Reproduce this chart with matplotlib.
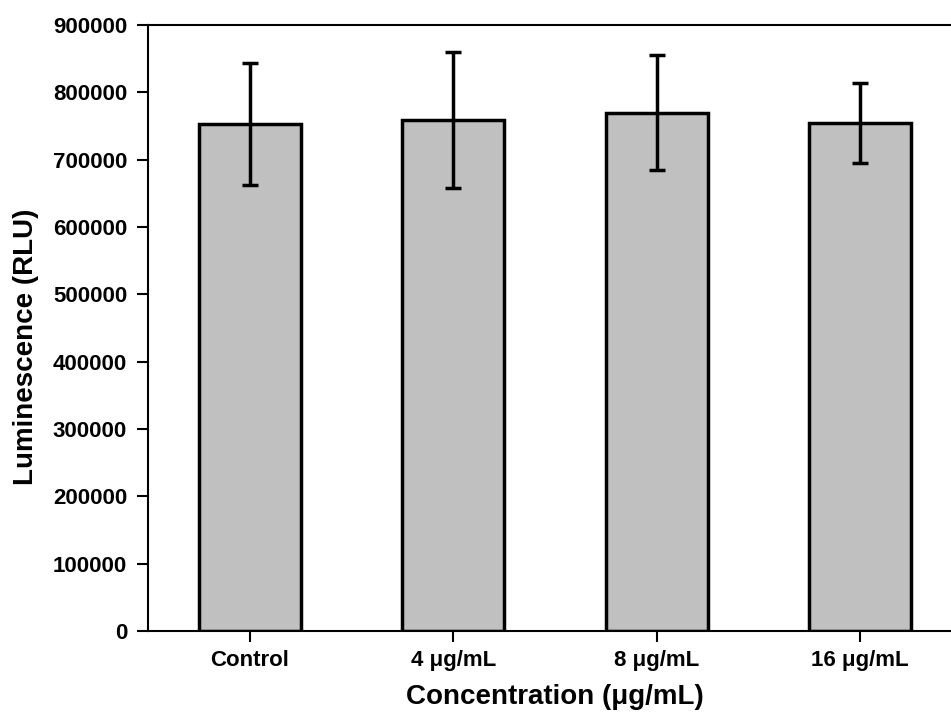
import matplotlib
matplotlib.use("Agg")
import matplotlib.pyplot as plt

# Datos
categories = ["Control", "4 μg/mL", "8 μg/mL", "16 μg/mL"]
means = [753000, 759000, 770000, 755000]
errors = [91000, 101000, 85500, 59500]
yticks = [0, 100000, 200000, 300000, 400000, 500000, 600000, 700000, 800000, 900000]

plt.rcParams["font.family"] = ["Liberation Sans", "DejaVu Sans"]
plt.rcParams["font.weight"] = "bold"

fig = plt.figure(figsize=(9.51, 7.21), dpi=100)
# el eje derecho queda fuera de la imagen, como en el original recortado
ax = fig.add_axes([148 / 951, 1 - 631 / 721, (962 - 148) / 951, (631 - 25) / 721])

x = range(len(categories))
ax.bar(x, means, width=0.5, color="#c0c0c0", edgecolor="black", linewidth=2.5, zorder=2)
ax.errorbar(x, means, yerr=errors, fmt="none", ecolor="black", elinewidth=2.5,
            capsize=5.5, capthick=2.5, zorder=3)

ax.set_xlim(-0.5, 3.5)
ax.set_ylim(0, 900000)
ax.set_yticks(yticks)
ax.set_yticklabels([str(v) for v in yticks])
ax.set_xticks(list(x))
ax.set_xticklabels(categories)

ax.spines["right"].set_visible(False)
for s in ["left", "bottom", "top"]:
    ax.spines[s].set_linewidth(1.5)

ax.tick_params(axis="both", direction="out", length=8, width=1.5, labelsize=16, pad=7)
ax.tick_params(axis="x", pad=6)

ax.set_xlabel("Concentration (μg/mL)", fontsize=20, fontweight="bold")
ax.set_ylabel("Luminescence (RLU)", fontsize=20, fontweight="bold")
ax.xaxis.set_label_coords(0.5, (631 - 684) / 606)
ax.yaxis.set_label_coords((39 - 148) / 814, (631 - 347) / 606)

fig.savefig("out.png", dpi=100)
